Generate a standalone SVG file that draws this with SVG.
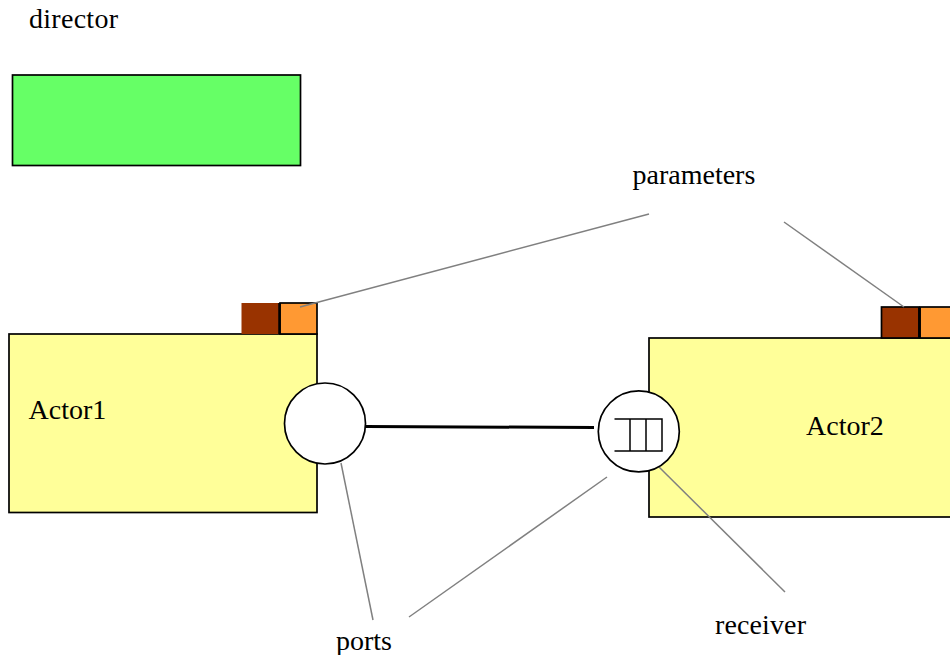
<svg xmlns="http://www.w3.org/2000/svg" width="950" height="655" viewBox="0 0 950 655">
<style>
text{font-family:"Liberation Serif","Times New Roman",serif;font-size:28px;fill:#000}
.b{stroke:#000;stroke-width:1.7}
.g{stroke:#808080;stroke-width:1.5;fill:none}
.y{fill:#ffff99}
.d{fill:#993300}
.o{fill:#ff9933}
.c{fill:#fff;stroke:#000;stroke-width:1.7}
.q{stroke:#000;stroke-width:1.5;fill:none}
</style>
<rect width="950" height="655" fill="#fff"/>
<g id="director"><rect x="12.500" y="75" width="288" height="90.500" fill="#66ff66" class="b"/></g>
<g id="actor1">
<rect x="9" y="334" width="308" height="178.500" class="y b"/>
<rect x="241.500" y="303" width="37.500" height="31" class="d"/>
<rect x="280" y="303" width="37" height="31" class="o b"/>
<line x1="279.500" y1="303" x2="279.500" y2="334" stroke="#000" stroke-width="2.500"/>
<text x="28.500" y="419">Actor1</text>
</g>
<g id="actor2">
<rect x="649" y="338" width="310" height="179" class="y b"/>
<rect x="881.500" y="307" width="37.500" height="31" class="d b"/>
<rect x="920" y="307" width="40" height="31" class="o b"/>
<line x1="919.500" y1="307" x2="919.500" y2="338" stroke="#000" stroke-width="2.500"/>
<text x="806" y="435">Actor2</text>
</g>
<g id="connectors">
<line x1="366" y1="426.500" x2="594" y2="427.500" stroke="#000" stroke-width="3"/>
<path class="g" d="M300 307 L649 214"/>
<path class="g" d="M784 222 L904 307"/>
<path class="g" d="M341 463 L373 620"/>
<path class="g" d="M607 477 L409 617"/>
<path class="g" d="M659 467 L785 592"/>
</g>
<g id="port1"><circle cx="325" cy="423.500" r="40.500" class="c"/></g>
<g id="port2">
<circle cx="638.800" cy="431.400" r="40.500" class="c"/>
<path class="q" d="M614.500 419 H662 V451 H614.500 M630 419 V451 M646 419 V451"/>
</g>
<g id="labels">
<text x="29" y="28" textLength="89">director</text>
<text x="632.500" y="184">parameters</text>
<text x="336" y="650">ports</text>
<text x="715" y="634" textLength="91">receiver</text>
</g>
</svg>
